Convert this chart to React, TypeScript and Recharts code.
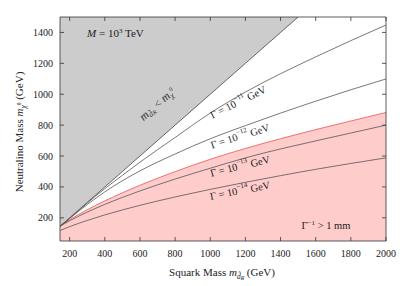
import {
  Area,
  ComposedChart,
  Line,
  ReferenceArea,
  XAxis,
  YAxis,
} from "recharts";

// squark mass grid (GeV)
const squarkMass = [145, 200, 300, 400, 500, 600, 800, 1000, 1200, 1400, 1500, 1600, 1800, 2000];
// kinematic boundary m_dR = m_chi (ends where it leaves the plot)
const kinematicEdge = [145, 200, 300, 400, 500, 600, 800, 1000, 1200, 1400, 1500, null, null, null];
// neutralino mass contours
const gamma11 = [145, 197, 295, 389, 475, 560, 720, 878, 1014, 1133, 1188, 1242, 1347, 1448];
const gamma12 = [145, 196, 286, 368, 440, 504, 613, 712, 797, 878, 917, 955, 1029, 1099];
const decay1mm = [145, 188, 252, 310, 362, 411, 499, 579, 649, 712, 742, 771, 827, 882];
const gamma13 = [145, 181, 237, 287, 332, 374, 451, 521, 588, 646, 672, 698, 749, 800];
const gamma14 = [118, 143, 183, 219, 251, 281, 335, 384, 430, 473, 494, 514, 552, 588];

const xTicks = [200, 400, 600, 800, 1000, 1200, 1400, 1600, 1800, 2000];
const yTicks = [200, 400, 600, 800, 1000, 1200, 1400];

const X_MIN = 145;
const X_MAX = 2000;
const Y_MIN = 50;
const Y_MAX = 1500;

const W = 409;
const H = 286;
const PLOT_TOP = 17;
const PLOT_RIGHT = 386;
const FONT = "'Liberation Serif', 'DejaVu Serif', serif";

const data = squarkMass.map((x, i) => ({
  x,
  edge: kinematicEdge[i],
  excluded: kinematicEdge[i] == null ? null : [kinematicEdge[i], Y_MAX],
  g11: gamma11[i],
  g12: gamma12[i],
  mm: decay1mm[i],
  g13: gamma13[i],
  g14: gamma14[i],
}));

function BottomTick(props: { x?: number; y?: number; payload?: { value?: number } }) {
  const { x = 0, y = 0, payload } = props;
  return (
    <g>
      <line x1={x} x2={x} y1={y} y2={y - 4} stroke="#333" strokeWidth={0.8} />
      <line x1={x} x2={x} y1={PLOT_TOP} y2={PLOT_TOP + 4} stroke="#333" strokeWidth={0.8} />
      <text x={x} y={y + 15.5} textAnchor="middle" fontSize={10} fill="#222" fontFamily={FONT}>
        {payload?.value}
      </text>
    </g>
  );
}

function LeftTick(props: { x?: number; y?: number; payload?: { value?: number } }) {
  const { x = 0, y = 0, payload } = props;
  return (
    <g>
      <line x1={x} x2={x + 4} y1={y} y2={y} stroke="#333" strokeWidth={0.8} />
      <line x1={PLOT_RIGHT} x2={PLOT_RIGHT - 4} y1={y} y2={y} stroke="#333" strokeWidth={0.8} />
      <text x={x - 7} y={y + 3.5} textAnchor="end" fontSize={10} fill="#222" fontFamily={FONT}>
        {payload?.value}
      </text>
    </g>
  );
}

function GammaLabel({ cx, cy, angle, exp }: { cx: number; cy: number; angle: number; exp: string }) {
  return (
    <text
      x={cx}
      y={cy}
      textAnchor="middle"
      dominantBaseline="central"
      fontSize={10.5}
      fill="#222"
      transform={`rotate(${angle} ${cx} ${cy})`}
    >
      Γ = 10<tspan dy={-4} fontSize={7}>−{exp}</tspan>
      <tspan dy={4}> GeV</tspan>
    </text>
  );
}

export default function App() {
  return (
    <div style={{ position: "absolute", left: 0, top: 0, width: W, height: H, fontFamily: FONT }}>
      <ComposedChart
        width={W}
        height={H}
        data={data}
        margin={{ top: PLOT_TOP, right: W - PLOT_RIGHT, bottom: 20, left: 20 }}
      >
        <XAxis
          dataKey="x"
          type="number"
          domain={[X_MIN, X_MAX]}
          ticks={xTicks}
          interval={0}
          allowDataOverflow
          axisLine={false}
          tickLine={false}
          tickSize={0}
          tickMargin={0}
          height={25}
          tick={BottomTick}
        />
        <YAxis
          type="number"
          domain={[Y_MIN, Y_MAX]}
          ticks={yTicks}
          interval={0}
          allowDataOverflow
          axisLine={false}
          tickLine={false}
          tickSize={0}
          tickMargin={0}
          width={40}
          tick={LeftTick}
        />
        <Area
          dataKey="mm"
          type="monotone"
          baseValue={Y_MIN}
          fill="#ffcccc"
          fillOpacity={1}
          stroke="#f05050"
          strokeWidth={0.8}
          isAnimationActive={false}
        />
        <Area
          dataKey="excluded"
          type="linear"
          fill="#cccccc"
          fillOpacity={1}
          stroke="none"
          isAnimationActive={false}
        />
        <Line dataKey="edge" type="linear" stroke="#444" strokeWidth={0.8} dot={false} isAnimationActive={false} />
        <Line dataKey="g11" type="monotone" stroke="#555" strokeWidth={0.8} dot={false} isAnimationActive={false} />
        <Line dataKey="g12" type="monotone" stroke="#555" strokeWidth={0.8} dot={false} isAnimationActive={false} />
        <Line dataKey="g13" type="monotone" stroke="#555" strokeWidth={0.8} dot={false} isAnimationActive={false} />
        <Line dataKey="g14" type="monotone" stroke="#555" strokeWidth={0.8} dot={false} isAnimationActive={false} />
        <ReferenceArea
          x1={X_MIN}
          x2={X_MAX}
          y1={Y_MIN}
          y2={Y_MAX}
          fill="none"
          fillOpacity={0}
          stroke="#333"
          strokeWidth={0.8}
          ifOverflow="visible"
        />
      </ComposedChart>
      <svg
        width={W}
        height={H}
        style={{ position: "absolute", left: 0, top: 0, pointerEvents: "none", fontFamily: FONT }}
      >
        <text x={87} y={37} fontSize={11} fill="#222">
          <tspan fontStyle="italic">M</tspan> = 10<tspan dy={-4} fontSize={7}>3</tspan>
          <tspan dy={4}> TeV</tspan>
        </text>
        <text
          x={157}
          y={104}
          textAnchor="middle"
          dominantBaseline="central"
          fontSize={11.5}
          fill="#333"
          transform="rotate(-41.5 157 104)"
        >
          <tspan fontStyle="italic">m</tspan>
          <tspan dy={3} fontSize={8} fontStyle="italic">d̃</tspan>
          <tspan dy={1.5} fontSize={6} fontStyle="italic">R</tspan>
          <tspan dy={-4.5}> &lt; </tspan>
          <tspan fontStyle="italic">m</tspan>
          <tspan dy={3} fontSize={8} fontStyle="italic">χ</tspan>
          <tspan dy={-5} fontSize={6}>0</tspan>
        </text>
        <GammaLabel cx={238} cy={102} angle={-27} exp="11" />
        <GammaLabel cx={240} cy={136} angle={-18} exp="12" />
        <GammaLabel cx={240} cy={166} angle={-14} exp="13" />
        <GammaLabel cx={240} cy={190.5} angle={-11.5} exp="14" />
        <text x={326} y={229} textAnchor="middle" fontSize={10.5} fill="#222">
          Γ<tspan dy={-4} fontSize={7}>−1</tspan>
          <tspan dy={4}> &gt; 1 mm</tspan>
        </text>
        <text x={222} y={276} textAnchor="middle" fontSize={11} fill="#222">
          Squark Mass <tspan fontStyle="italic">m</tspan>
          <tspan dy={2.5} fontSize={7.5} fontStyle="italic">d̃</tspan>
          <tspan dy={1.5} fontSize={5.5} fontStyle="italic">R</tspan>
          <tspan dy={-4}> (GeV)</tspan>
        </text>
        <text
          x={23}
          y={132}
          textAnchor="middle"
          fontSize={11}
          fill="#222"
          transform="rotate(-90 23 132)"
        >
          Neutralino Mass <tspan fontStyle="italic">m</tspan>
          <tspan dy={2.5} fontSize={7.5} fontStyle="italic">χ</tspan>
          <tspan dy={-4.5} fontSize={5.5}>0</tspan>
          <tspan dy={2}> (GeV)</tspan>
        </text>
      </svg>
    </div>
  );
}
